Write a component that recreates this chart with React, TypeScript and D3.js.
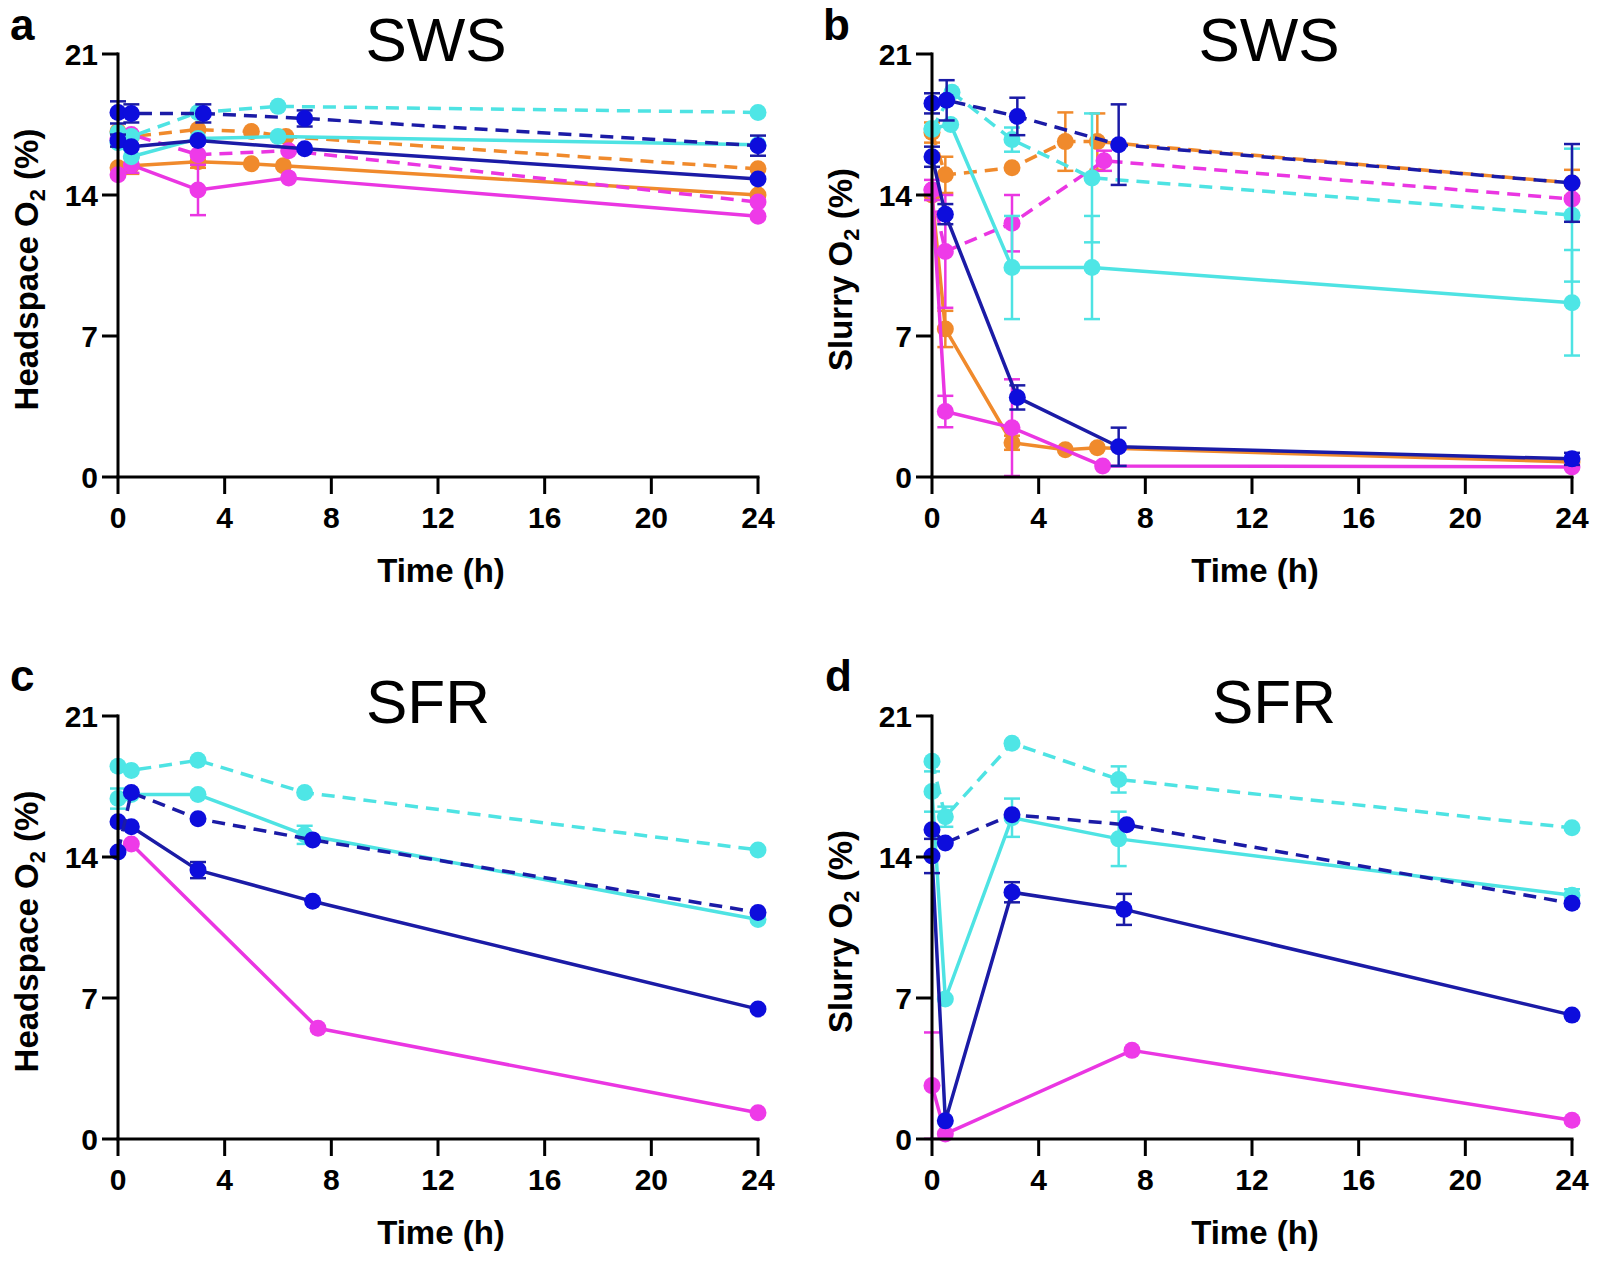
import React from "react";
import * as d3 from "d3";

type Pt = [number, number, number?];

// ---------- tick labels ----------
const xTicks = [0, 4, 8, 12, 16, 20, 24];
const yTicks = [0, 7, 14, 21];

// ---------- panel a (SWS, headspace) ----------
const aOrangeSolid: Pt[] = [[0, 15.35], [0.5, 15.45, 0.4], [3, 15.65, 0.3], [5, 15.55], [6.2, 15.45], [24, 14.0]];
const aOrangeDashed: Pt[] = [[0, 17.15], [0.5, 16.9], [3, 17.25], [5, 17.15], [6.3, 16.9], [24, 15.3]];
const aMagentaDashed: Pt[] = [[0, 16.8], [0.5, 17.0], [3, 16.0], [6.4, 16.2], [24, 13.65]];
const aMagentaSolid: Pt[] = [[0, 15.0], [0.5, 15.5, 0.4], [3, 14.25, 1.25], [6.4, 14.85], [24, 12.95]];
const aCyanSolid: Pt[] = [[0, 16.6], [0.5, 15.9], [3, 16.8], [6, 16.9], [24, 16.5]];
const aCyanDashed: Pt[] = [[0, 17.1], [0.5, 16.9], [3, 18.1], [6, 18.4], [24, 18.1]];
const aBlueSolid: Pt[] = [[0, 16.7, 0.3], [0.5, 16.4], [3, 16.7], [7, 16.3], [24, 14.8]];
const aBlueDashed: Pt[] = [[0, 18.1, 0.55], [0.5, 18.05, 0.45], [3.2, 18.05, 0.45], [7, 17.8, 0.4], [24, 16.45, 0.5]];

// ---------- panel b (SWS, slurry) ----------
const bOrangeSolid: Pt[] = [[0, 14.0], [0.5, 7.35, 0.9], [3, 1.7, 0.35], [5, 1.35], [6.2, 1.45], [24, 0.75]];
const bOrangeDashed: Pt[] = [[0, 17.1, 0.5], [0.5, 15.0, 0.9], [3, 15.35], [5, 16.65, 1.45], [6.2, 16.65, 1.4], [24, 14.6, 0.65]];
const bMagentaSolid: Pt[] = [[0, 14.25], [0.5, 3.25, 0.78], [3, 2.45, 2.4], [6.4, 0.55], [24, 0.5]];
const bMagentaDashed: Pt[] = [[0, 14.25, 0.5], [0.5, 11.2, 2.8], [3, 12.6, 1.4], [6.45, 15.7, 0.5], [24, 13.8]];
const bCyanSolid: Pt[] = [[0, 17.3], [0.7, 17.5], [3, 10.4, 2.56], [6, 10.4, 2.56], [24, 8.65, 2.62]];
const bCyanDashed: Pt[] = [[0, 17.25], [0.75, 19.1], [3, 16.75, 0.6], [6, 14.85, 3.2], [24, 13.0, 3.3]];
const bBlueSolid: Pt[] = [[0, 15.9, 0.5], [0.5, 13.05, 0.5], [3.2, 3.95, 0.6], [7, 1.5, 0.95], [24, 0.9, 0.3]];
const bBlueDashed: Pt[] = [[0, 18.55, 0.5], [0.55, 18.7, 1.0], [3.2, 17.9, 0.93], [7, 16.5, 2.0], [24, 14.6, 1.93]];

// ---------- panel c (SFR, headspace) ----------
const cMagentaSolid: Pt[] = [[0.5, 14.65], [7.5, 5.5], [24, 1.3]];
const cCyanSolid: Pt[] = [[0, 16.9, 0.5], [0.5, 17.1], [3, 17.1], [7, 15.1, 0.45], [24, 10.9]];
const cCyanDashed: Pt[] = [[0, 18.5], [0.5, 18.3], [3, 18.8], [7, 17.2], [24, 14.35]];
const cBlueSolid: Pt[] = [[0, 15.75], [0.5, 15.5], [3, 13.35, 0.4], [7.3, 11.8], [24, 6.45]];
const cBlueDashed: Pt[] = [[0, 14.25], [0.5, 17.2], [3, 15.9], [7.3, 14.85], [24, 11.25]];

// ---------- panel d (SFR, slurry) ----------
const dMagentaSolid: Pt[] = [[0, 2.65, 2.64], [0.5, 0.25], [7.5, 4.4], [24, 0.93]];
const dCyanSolid: Pt[] = [[0, 17.25, 1.0], [0.5, 6.95], [3, 15.95, 0.95], [7, 14.9, 1.35], [24, 12.1, 0.3]];
const dCyanDashed: Pt[] = [[0, 18.75], [0.5, 16.0, 0.5], [3, 19.65], [7, 17.85, 0.65], [24, 15.45]];
const dBlueSolid: Pt[] = [[0, 14.05, 0.85], [0.5, 0.9], [3, 12.25, 0.5], [7.2, 11.4, 0.77], [24, 6.15]];
const dBlueDashed: Pt[] = [[0, 15.35], [0.5, 14.7], [3, 16.1], [7.3, 15.6], [24, 11.7]];

const COLORS: Record<string, { line: string; marker: string }> = {
  cyan: { line: "#4ee3e3", marker: "#4ee6e6" },
  blue: { line: "#1b1ba6", marker: "#0d0ddc" },
  orange: { line: "#f08a2c", marker: "#f08a2c" },
  magenta: { line: "#ea36e2", marker: "#ee3ae8" },
};

type Series = { data: Pt[]; color: string; dashed: boolean };

const panels = [
  {
    letter: "a", title: "SWS", ylabel: "Headspace O", x0: 118, yTop: 54, titleX: 436, letterX: 10, letterY: 40,
    series: [
      { data: aOrangeSolid, color: "orange", dashed: false },
      { data: aOrangeDashed, color: "orange", dashed: true },
      { data: aMagentaDashed, color: "magenta", dashed: true },
      { data: aMagentaSolid, color: "magenta", dashed: false },
      { data: aCyanSolid, color: "cyan", dashed: false },
      { data: aCyanDashed, color: "cyan", dashed: true },
      { data: aBlueSolid, color: "blue", dashed: false },
      { data: aBlueDashed, color: "blue", dashed: true },
    ] as Series[],
  },
  {
    letter: "b", title: "SWS", ylabel: "Slurry O", x0: 932, yTop: 54, titleX: 1269, letterX: 823, letterY: 40,
    series: [
      { data: bOrangeSolid, color: "orange", dashed: false },
      { data: bOrangeDashed, color: "orange", dashed: true },
      { data: bMagentaSolid, color: "magenta", dashed: false },
      { data: bMagentaDashed, color: "magenta", dashed: true },
      { data: bCyanSolid, color: "cyan", dashed: false },
      { data: bCyanDashed, color: "cyan", dashed: true },
      { data: bBlueSolid, color: "blue", dashed: false },
      { data: bBlueDashed, color: "blue", dashed: true },
    ] as Series[],
  },
  {
    letter: "c", title: "SFR", ylabel: "Headspace O", x0: 118, yTop: 716, titleX: 428, letterX: 10, letterY: 691,
    series: [
      { data: cMagentaSolid, color: "magenta", dashed: false },
      { data: cCyanSolid, color: "cyan", dashed: false },
      { data: cCyanDashed, color: "cyan", dashed: true },
      { data: cBlueSolid, color: "blue", dashed: false },
      { data: cBlueDashed, color: "blue", dashed: true },
    ] as Series[],
  },
  {
    letter: "d", title: "SFR", ylabel: "Slurry O", x0: 932, yTop: 716, titleX: 1274, letterX: 825, letterY: 691,
    series: [
      { data: dMagentaSolid, color: "magenta", dashed: false },
      { data: dCyanSolid, color: "cyan", dashed: false },
      { data: dCyanDashed, color: "cyan", dashed: true },
      { data: dBlueSolid, color: "blue", dashed: false },
      { data: dBlueDashed, color: "blue", dashed: true },
    ] as Series[],
  },
];

const FONT = "'Liberation Sans', Arial, Helvetica, sans-serif";
const PLOT_W = 640;
const PLOT_H = 423;

function Panel({ p }: { p: (typeof panels)[number] }) {
  const y0 = p.yTop + PLOT_H;
  const x = d3.scaleLinear().domain([0, 24]).range([p.x0, p.x0 + PLOT_W]);
  const y = d3.scaleLinear().domain([0, 21]).range([y0, p.yTop]);
  const line = d3
    .line<Pt>()
    .x((d) => x(d[0]))
    .y((d) => y(d[1]));
  const cap = 8;
  return (
    <g>
      {/* panel letter and title */}
      <text x={p.letterX} y={p.letterY} fontFamily={FONT} fontWeight="bold" fontSize={44} fill="#000">
        {p.letter}
      </text>
      <text x={p.titleX} y={p.yTop + 7} fontFamily={FONT} fontSize={62} textAnchor="middle" fill="#000">
        {p.title}
      </text>

      {/* series */}
      {p.series.map((s, i) => {
        const c = COLORS[s.color];
        return (
          <g key={i}>
            <path
              d={line(s.data) || ""}
              fill="none"
              stroke={c.line}
              strokeWidth={3.5}
              strokeDasharray={s.dashed ? "13 8" : undefined}
              strokeLinejoin="round"
            />
            {s.data
              .filter((d) => d[2] !== undefined)
              .map((d, j) => {
                const e = d[2] as number;
                const lo = Math.max(0, d[1] - e);
                const hi = d[1] + e;
                const cx = x(d[0]);
                return (
                  <g key={"e" + j} stroke={c.line} strokeWidth={2.5}>
                    <line x1={cx} x2={cx} y1={y(lo)} y2={y(hi)} />
                    <line x1={cx - cap} x2={cx + cap} y1={y(hi)} y2={y(hi)} />
                    {lo > 0 && <line x1={cx - cap} x2={cx + cap} y1={y(lo)} y2={y(lo)} />}
                  </g>
                );
              })}
            {s.data.map((d, j) => (
              <circle key={"m" + j} cx={x(d[0])} cy={y(d[1])} r={8.5} fill={c.marker} />
            ))}
          </g>
        );
      })}

      {/* axes */}
      <g stroke="#000" strokeWidth={3} fill="none">
        <line x1={p.x0} x2={p.x0} y1={p.yTop - 1.5} y2={y0} />
        <line x1={p.x0 - 1.5} x2={p.x0 + PLOT_W + 1.5} y1={y0} y2={y0} />
        {yTicks.map((t) => (
          <line key={"yt" + t} x1={p.x0 - 16} x2={p.x0} y1={y(t)} y2={y(t)} />
        ))}
        {xTicks.map((t) => (
          <line key={"xt" + t} x1={x(t)} x2={x(t)} y1={y0} y2={y0 + 17} />
        ))}
      </g>
      {yTicks.map((t) => (
        <text
          key={"yl" + t}
          x={p.x0 - 20}
          y={y(t) + 11}
          textAnchor="end"
          fontFamily={FONT}
          fontWeight="bold"
          fontSize={30}
          fill="#000"
        >
          {t}
        </text>
      ))}
      {xTicks.map((t) => (
        <text
          key={"xl" + t}
          x={x(t)}
          y={y0 + 51}
          textAnchor="middle"
          fontFamily={FONT}
          fontWeight="bold"
          fontSize={30}
          fill="#000"
        >
          {t}
        </text>
      ))}
      <text
        x={p.x0 + PLOT_W / 2 + 3}
        y={y0 + 105}
        textAnchor="middle"
        fontFamily={FONT}
        fontWeight="bold"
        fontSize={33}
        fill="#000"
      >
        Time (h)
      </text>
      <text
        transform={`translate(${p.x0 - 80},${(p.yTop + y0) / 2 + 4}) rotate(-90)`}
        textAnchor="middle"
        fontFamily={FONT}
        fontWeight="bold"
        fontSize={33}
        fill="#000"
      >
        {p.ylabel}
        <tspan fontSize={22} dy={7}>2</tspan>
        <tspan dy={-7}> (%)</tspan>
      </text>
    </g>
  );
}

export default function App() {
  return (
    <svg
      width={1598}
      height={1264}
      viewBox="0 0 1598 1264"
      style={{ position: "absolute", left: 0, top: 0, background: "#fff" }}
    >
      <rect width={1598} height={1264} fill="#fff" />
      {panels.map((p) => (
        <Panel key={p.letter} p={p} />
      ))}
    </svg>
  );
}
